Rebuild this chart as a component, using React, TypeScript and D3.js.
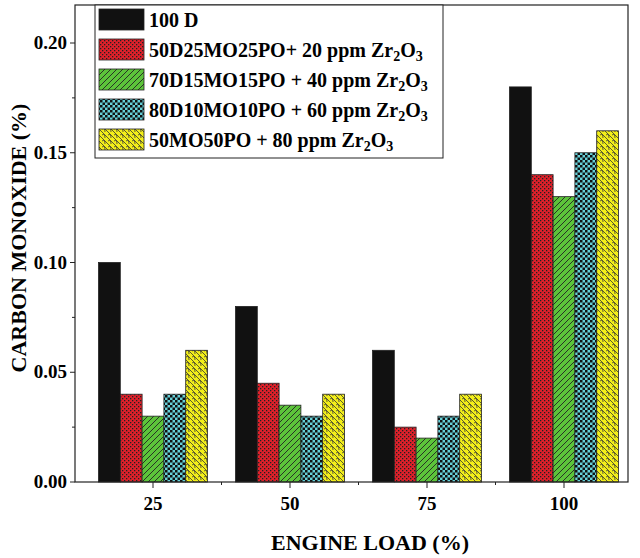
import React from "react";
import * as d3 from "d3";

const categories = ["25", "50", "75", "100"];
const seriesNames = ["100 D", "50D25MO25PO+ 20 ppm Zr", "70D15MO15PO + 40 ppm Zr", "80D10MO10PO + 60 ppm Zr", "50MO50PO + 80 ppm Zr"];
const s100D = [0.10, 0.08, 0.06, 0.18];
const sRed = [0.04, 0.045, 0.025, 0.14];
const sGreen = [0.03, 0.035, 0.02, 0.13];
const sBlue = [0.04, 0.03, 0.03, 0.15];
const sYellow = [0.06, 0.04, 0.04, 0.16];
const series = [s100D, sRed, sGreen, sBlue, sYellow];
const yTicks = [0, 0.05, 0.1, 0.15, 0.2];
const fills = ["#111111", "url(#pRed)", "url(#pGreen)", "url(#pBlue)", "url(#pYellow)"];

export default function App() {
  const W = 640, H = 558;
  const L = 75, R = 628, T = 5, B = 482;
  const x = d3.scalePoint().domain(categories).range([153, 564]);
  const step = x.step();
  const y = d3.scaleLinear().domain([0, 0.2]).range([B, 43]);
  const bw = 21.8;
  const font = "'Liberation Serif', 'Times New Roman', serif";
  return (
    <svg width={W} height={H} style={{ position: "absolute", left: 0, top: 0, background: "#fff" }} fontFamily={font}>
      <defs>
        <pattern id="pRed" width="4" height="4" patternUnits="userSpaceOnUse">
          <rect width="4" height="4" fill="#e0202a" />
          <rect x="0" y="0" width="1.3" height="1.3" fill="#222" />
          <rect x="2" y="2" width="1.3" height="1.3" fill="#222" />
        </pattern>
        <pattern id="pGreen" width="6" height="6" patternUnits="userSpaceOnUse">
          <rect width="6" height="6" fill="#5cc43a" />
          <path d="M0,6 L6,0 M-1,1 L1,-1 M5,7 L7,5" stroke="#222" strokeWidth="0.9" />
        </pattern>
        <pattern id="pBlue" width="5" height="5" patternUnits="userSpaceOnUse">
          <rect width="5" height="5" fill="#66d0d8" />
          <rect x="0" y="0" width="2.5" height="2.5" fill="#111" />
          <rect x="2.5" y="2.5" width="2.5" height="2.5" fill="#111" />
        </pattern>
        <pattern id="pYellow" width="6" height="6" patternUnits="userSpaceOnUse">
          <rect width="6" height="6" fill="#f2ee1a" />
          <path d="M0,0 L6,6 M0,3 Q3,1 3,6" stroke="#333" strokeWidth="0.8" fill="none" />
        </pattern>
      </defs>
      {categories.map((c, i) => {
        const cx = x(c)!;
        return series.map((s, k) => (
          <rect key={c + k} x={cx - 2.5 * bw + k * bw} y={y(s[i])} width={bw} height={B - y(s[i])}
            fill={fills[k]} stroke="#222" strokeWidth={0.8} />
        ));
      })}
      <rect x={L} y={T} width={R - L} height={B - T} fill="none" stroke="#222" strokeWidth={1.2} />
      {yTicks.map(t => (
        <g key={t}>
          <line x1={L - 5} x2={L} y1={y(t)} y2={y(t)} stroke="#222" />
          <text x={L - 8} y={y(t) + 6} textAnchor="end" fontSize={19} fontWeight="bold">{t.toFixed(2)}</text>
        </g>
      ))}
      {yTicks.slice(0, -1).map(t => (
        <line key={"m" + t} x1={L - 3} x2={L} y1={y(t + 0.025)} y2={y(t + 0.025)} stroke="#222" />
      ))}
      {categories.map((c, i) => {
        const cx = x(c)!;
        return (
          <g key={c}>
            <line x1={cx} x2={cx} y1={B} y2={B + 6} stroke="#222" />
            {i < categories.length - 1 && <line x1={cx + step / 2} x2={cx + step / 2} y1={B} y2={B + 3} stroke="#222" />}
            <text x={cx} y={B + 28} textAnchor="middle" fontSize={19} fontWeight="bold">{c}</text>
          </g>
        );
      })}
      <text x={370} y={550} textAnchor="middle" fontSize={22} fontWeight="bold">ENGINE LOAD (%)</text>
      <text transform={`translate(26,238) rotate(-90)`} textAnchor="middle" fontSize={22} fontWeight="bold">CARBON MONOXIDE (%)</text>
      <rect x={95} y={5} width={348} height={153} fill="#fff" stroke="#222" strokeWidth={1} />
      {seriesNames.map((n, k) => {
        const ly = 9 + k * 30;
        return (
          <g key={n}>
            <rect x={99} y={ly} width={45} height={21} fill={fills[k]} stroke="#222" strokeWidth={0.8} />
            <text x={149} y={ly + 18} fontSize={20} fontWeight="bold">
              {n}
              {k > 0 && <><tspan fontSize={14} dy={4}>2</tspan><tspan dy={-4}>O</tspan><tspan fontSize={14} dy={4}>3</tspan></>}
            </text>
          </g>
        );
      })}
    </svg>
  );
}
